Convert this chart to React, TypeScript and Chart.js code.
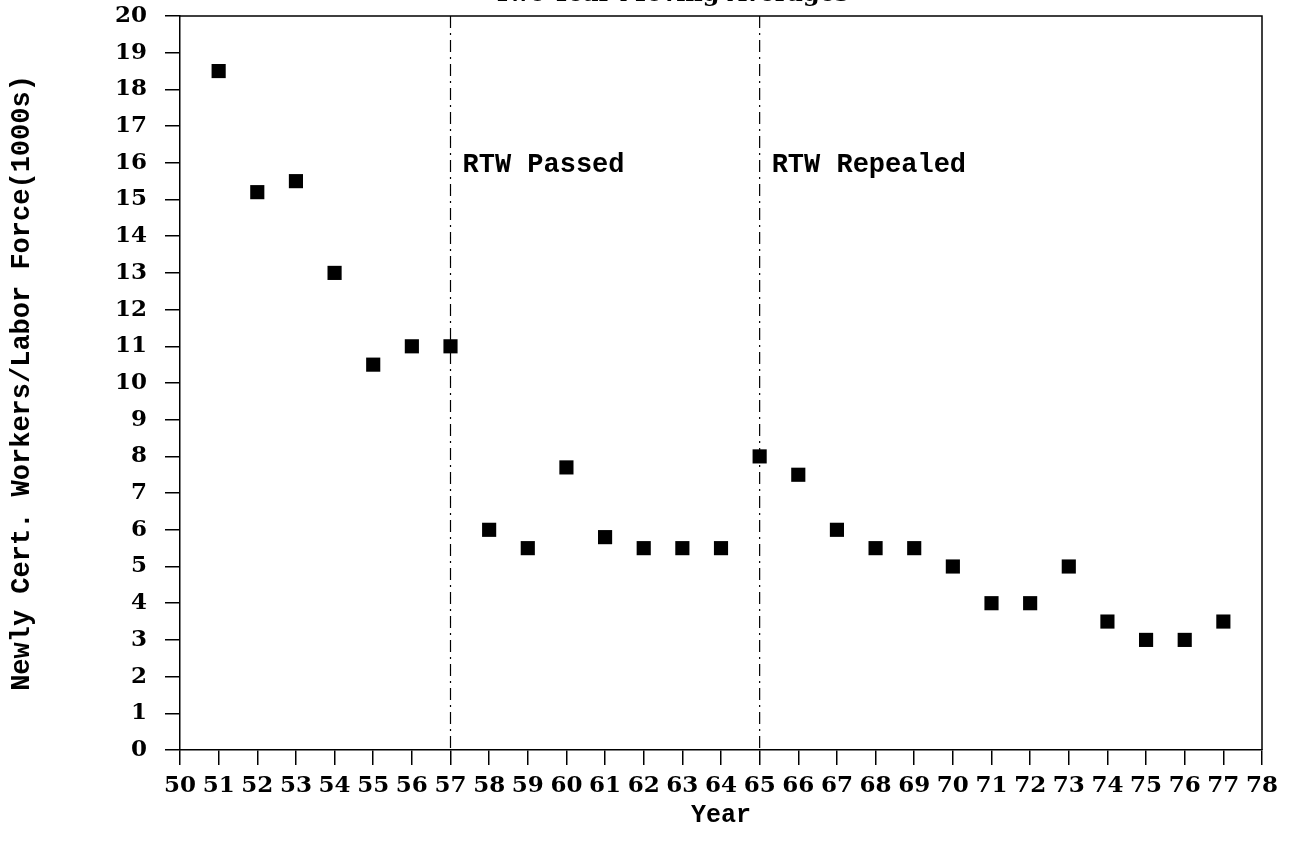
import { useEffect, useRef } from 'react';
import { Chart, registerables } from 'chart.js';

Chart.register(...registerables);

const years = [51, 52, 53, 54, 55, 56, 57, 58, 59, 60, 61, 62, 63, 64, 65, 66, 67, 68, 69, 70, 71, 72, 73, 74, 75, 76, 77];
const values = [18.5, 15.2, 15.5, 13.0, 10.5, 11.0, 11.0, 6.0, 5.5, 7.7, 5.8, 5.5, 5.5, 5.5, 8.0, 7.5, 6.0, 5.5, 5.5, 5.0, 4.0, 4.0, 5.0, 3.5, 3.0, 3.0, 3.5];
const xRange = [50, 78];
const yRange = [0, 20];
const eventYears = [57, 65];
const eventLabels = ['RTW Passed', 'RTW Repealed'];
const chartTitle = 'Two-Year Moving Averages';
const xTitle = 'Year';
const yTitle = 'Newly Cert. Workers/Labor Force(1000s)';

const monoBold = 'bold 27px "Liberation Mono", monospace';

const overlay = {
  id: 'overlay',
  beforeDatasetsDraw(chart: any) {
    const { ctx, chartArea: a, scales } = chart;
    const x = scales.x;
    ctx.save();
    ctx.strokeStyle = '#000';
    ctx.lineWidth = 1.5;
    ctx.beginPath();
    ctx.moveTo(a.left, a.top);
    ctx.lineTo(a.right, a.top);
    ctx.lineTo(a.right, a.bottom);
    ctx.stroke();
    ctx.lineWidth = 1.2;
    ctx.setLineDash([12, 5, 2, 5]);
    ctx.fillStyle = '#000';
    ctx.font = monoBold;
    ctx.textBaseline = 'alphabetic';
    ctx.textAlign = 'left';
    eventYears.forEach((yr, i) => {
      const px = x.getPixelForValue(yr);
      ctx.beginPath();
      ctx.moveTo(px, a.top);
      ctx.lineTo(px, a.bottom);
      ctx.stroke();
      ctx.fillText(eventLabels[i], px + 12, chart.scales.y.getPixelForValue(16) + 9);
    });
    ctx.setLineDash([]);
    ctx.textAlign = 'center';
    ctx.font = 'bold 24px "DejaVu Serif", serif';
    ctx.fillText(chartTitle, 671, 1);
    ctx.restore();
  },
};

export default function App() {
  const ref = useRef<HTMLCanvasElement | null>(null);
  useEffect(() => {
    if (!ref.current) return;
    const chart = new Chart(ref.current, {
      type: 'scatter',
      data: {
        datasets: [
          {
            label: 'Two-Year Moving Averages',
            data: years.map((yr, i) => ({ x: yr, y: values[i] })),
            pointStyle: 'rect',
            pointRadius: 10,
            pointHoverRadius: 10,
            backgroundColor: '#000',
            borderColor: '#000',
            borderWidth: 0,
          },
        ],
      },
      plugins: [overlay],
      options: {
        animation: false,
        responsive: false,
        events: [],
        layout: { padding: { left: 0, top: 16, right: 34, bottom: 0 } },
        plugins: { legend: { display: false }, tooltip: { enabled: false } },
        scales: {
          x: {
            type: 'linear',
            min: xRange[0],
            max: xRange[1],
            afterFit: (s: any) => { s.height = 101; s.paddingLeft = 0; s.paddingRight = 0; },
            ticks: {
              stepSize: 1,
              color: '#000',
              padding: 7,
              maxRotation: 0,
              autoSkip: false,
              font: { family: '"DejaVu Serif", serif', weight: 'bold', size: 23 },
            },
            grid: { drawOnChartArea: false, color: '#000', lineWidth: 1.5, tickLength: 15 },
            border: { display: true, color: '#000', width: 1.5 },
            title: {
              display: true,
              text: xTitle,
              color: '#000',
              font: { family: '"Liberation Mono", monospace', weight: 'bold', size: 25 },
              padding: { top: 4, bottom: 20 },
            },
          },
          y: {
            min: yRange[0],
            max: yRange[1],
            afterFit: (s: any) => { s.width = 180; s.paddingTop = 0; s.paddingBottom = 0; },
            ticks: {
              stepSize: 1,
              color: '#000',
              padding: 18,
              font: { family: '"DejaVu Serif", serif', weight: 'bold', size: 23 },
            },
            grid: { drawOnChartArea: false, color: '#000', lineWidth: 1.5, tickLength: 15 },
            border: { display: true, color: '#000', width: 1.5 },
            title: {
              display: true,
              text: yTitle,
              color: '#000',
              font: { family: '"Liberation Mono", monospace', weight: 'bold', size: 27 },
              padding: { top: 6, bottom: 6 },
            },
          },
        },
      },
    });
    return () => chart.destroy();
  }, []);
  return (
    <div style={{ position: 'absolute', left: 0, top: 0, width: 1296, height: 851, background: '#fff' }}>
      <canvas ref={ref} width={1296} height={851} style={{ display: 'block' }} />
    </div>
  );
}
